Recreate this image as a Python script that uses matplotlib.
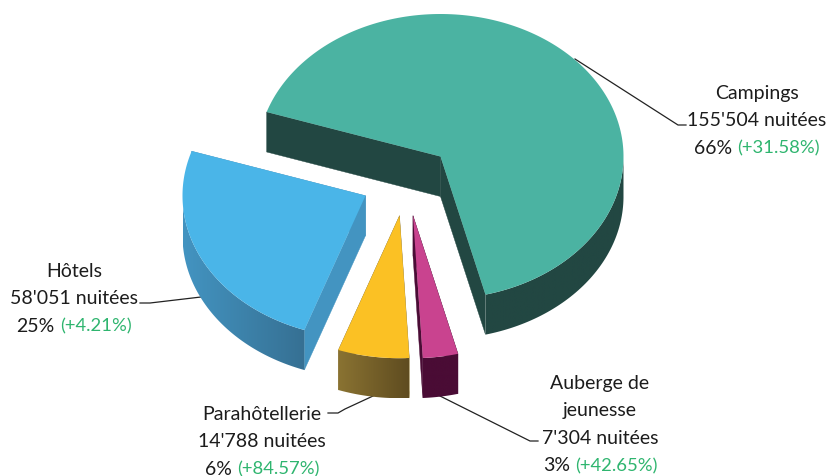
import numpy as np
import matplotlib
matplotlib.use('Agg')
import matplotlib.pyplot as plt
from matplotlib.colors import LinearSegmentedColormap
from matplotlib.patches import Polygon

# data
categories = ['Campings', 'Auberge de\njeunesse', 'Parahôtellerie', 'Hôtels']
nights = [155504, 7304, 14788, 58051]
percent = [66, 3, 6, 25]
growth = [31.58, 42.65, 84.57, 4.21]

# slices go clockwise from this angle
start_angle = 161.8
rx, ry = 183, 142.5
depth = 40

# apex of each exploded slice, in pixels
apex = [(440.5, 157.5), (413, 216.7), (399.5, 216.7), (365.5, 196.7)]
top_col = ['#4BB3A2', '#C9438F', '#FBC124', '#4AB5E8']
side_col = ['#224742', '#4A0C35', '#8A7332', '#4394C1']
side_end = ['#224742', '#4A0C35', '#5F4C20', '#367093']

label_x = [757, 600, 262, 74]
label_y = [93.5, 383.5, 414.5, 271.5]
leaders = [
    [(575, 60), (678, 126), (686, 126)],
    [(440, 397), (530, 442), (538, 442)],
    [(373, 397), (345, 410), (338, 414), (328, 414)],
    [(201, 298), (150, 304), (140, 304)],
]

text_col = '#1c1c1c'
green = '#2FB56F'
font = 'Lato'
fs = 14
fs_green = 13.3
line_h = 27.5

fig = plt.figure(figsize=(8.29, 4.77), dpi=100)
ax = fig.add_axes([0, 0, 1, 1])

for pts in leaders:
    xs, ys = zip(*pts)
    ax.plot(xs, ys, color='#222222', lw=0.9, zorder=1)

shares = np.array(nights) / sum(nights) * 360
a0 = start_angle
for i in range(len(nights)):
    a1 = a0 - shares[i]
    cx, cy = apex[i]

    def pt(deg):
        return cx + rx * np.cos(np.radians(deg)), cy - ry * np.sin(np.radians(deg))

    # straight sides
    for edge in (a0, a1):
        x, y = pt(edge)
        ax.fill([cx, x, x, cx], [cy, y, y + depth, cy + depth], color=side_col[i], lw=0.3, zorder=2)

    # rim, only the front half shows
    angles = np.linspace(a0, a1, 200)
    front = angles[np.sin(np.radians(angles)) <= 0.001]
    rim = [pt(a) for a in front]
    rim = rim + [(x, y + depth) for x, y in rim[::-1]]
    rim = np.array(rim)
    patch = Polygon(rim, closed=True, fc='none', ec='none', transform=ax.transData)
    ax.add_patch(patch)
    cmap = LinearSegmentedColormap.from_list('rim', [side_col[i], side_end[i]])
    im = ax.imshow(np.linspace(0, 1, 256).reshape(1, -1), cmap=cmap, aspect='auto', zorder=3,
                   extent=(rim[:, 0].min(), rim[:, 0].max(), rim[:, 1].max(), rim[:, 1].min()))
    im.set_clip_path(patch)

    # top face
    tx, ty = zip(*[(cx, cy)] + [pt(a) for a in angles])
    ax.fill(tx, ty, color=top_col[i], lw=0, zorder=4)
    a0 = a1

ax.set_xlim(0, 829)
ax.set_ylim(477, 0)
ax.axis('off')

fig.canvas.draw()
rend = fig.canvas.get_renderer()

for i, name in enumerate(categories):
    lines = name.split('\n') + [f"{nights[i]:,}".replace(',', "'") + ' nuitées']
    y = label_y[i]
    for ln in lines:
        ax.text(label_x[i], y, ln, ha='center', va='center', family=font, fontsize=fs, color=text_col)
        y += line_h
    # last line has two colours, so measure both pieces
    a = ax.text(0, y, f'{percent[i]}%', ha='left', va='center', family=font, fontsize=fs, color=text_col)
    b = ax.text(0, y, f'(+{growth[i]:.2f}%)', ha='left', va='center', family=font, fontsize=fs_green, color=green)
    wa = a.get_window_extent(rend).width + 5
    wb = b.get_window_extent(rend).width
    left = label_x[i] - (wa + wb) / 2
    a.set_x(left)
    b.set_x(left + wa)

fig.savefig('out.png', dpi=100)
